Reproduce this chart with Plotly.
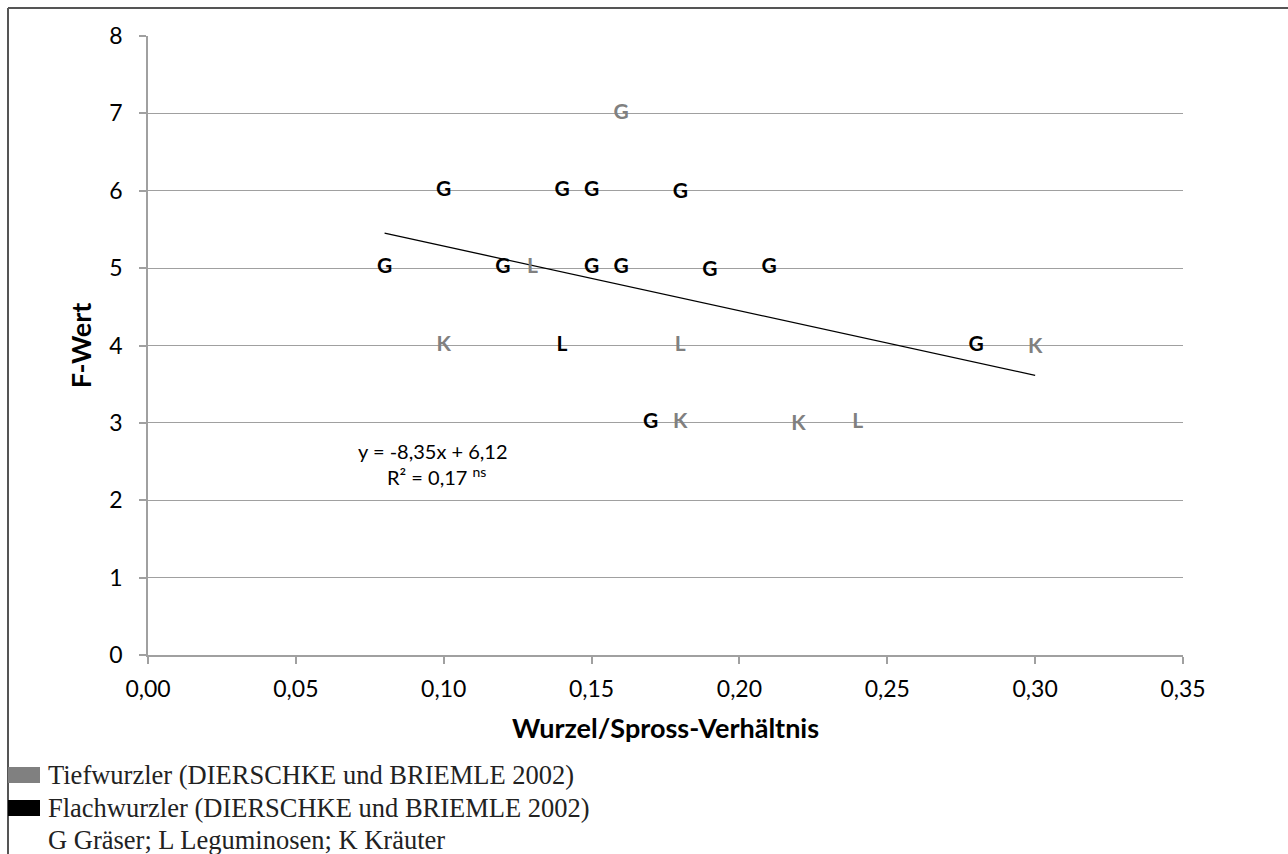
import plotly.graph_objects as go

# ---- data ----
tief_x = [0.16, 0.13, 0.10, 0.18, 0.30, 0.18, 0.22, 0.24]
tief_y = [7, 5, 4, 4, 3.97, 3, 2.97, 3]
tief_lbl = ["G", "L", "K", "L", "K", "K", "K", "L"]

flach_x = [0.10, 0.14, 0.15, 0.18, 0.08, 0.12, 0.15, 0.16, 0.19, 0.21, 0.14, 0.28, 0.17]
flach_y = [6, 6, 6, 5.97, 5, 5, 5, 5, 4.97, 5, 4, 4, 3]
flach_lbl = ["G", "G", "G", "G", "G", "G", "G", "G", "G", "G", "L", "G", "G"]

trend_slope = -8.35
trend_intercept = 6.12
trend_x = [0.08, 0.30]

x_ticks = [0.0, 0.05, 0.10, 0.15, 0.20, 0.25, 0.30, 0.35]
y_ticks = [0, 1, 2, 3, 4, 5, 6, 7, 8]

legend_items = ["Tiefwurzler (DIERSCHKE und BRIEMLE 2002)",
                "Flachwurzler (DIERSCHKE und BRIEMLE 2002)",
                "G Gräser; L Leguminosen; K Kräuter"]

W, H = 1288, 854
L, R, T, B = 148, 1183, 36, 655
FONT = "Lato"
GRAY = "#808080"


def px(x):
    return (x - L) / (R - L)


def py(y):
    return (B - y) / (B - T)


fig = go.Figure()

fig.add_trace(go.Scatter(
    x=trend_x, y=[trend_slope * v + trend_intercept for v in trend_x],
    mode="lines", line=dict(color="black", width=1.3), hoverinfo="skip",
    showlegend=False))

fig.add_trace(go.Scatter(
    x=tief_x, y=tief_y, mode="text", text=[f"<b>{t}</b>" for t in tief_lbl],
    textposition="middle center",
    textfont=dict(family=FONT, size=21, color=GRAY), showlegend=False))

fig.add_trace(go.Scatter(
    x=flach_x, y=flach_y, mode="text", text=[f"<b>{t}</b>" for t in flach_lbl],
    textposition="middle center",
    textfont=dict(family=FONT, size=21, color="black"), showlegend=False))

fig.update_layout(
    width=W, height=H,
    margin=dict(l=L, r=W - R, t=T, b=H - B, pad=0),
    paper_bgcolor="white", plot_bgcolor="white",
    separators=",.",
    font=dict(family=FONT, size=20, color="black"),
    showlegend=False,
)

fig.update_xaxes(
    range=[0, 0.35], tickvals=x_ticks, tickformat=".2f",
    showgrid=False, zeroline=False,
    showline=True, linecolor="#a0a0a0", linewidth=1.5,
    ticks="outside", ticklen=7, tickcolor="#a0a0a0", tickwidth=1.5,
    ticklabelstandoff=6,
    tickfont=dict(family=FONT, size=23, color="black"),
    title=dict(text="<b>Wurzel/Spross-Verhältnis</b>", standoff=18,
               font=dict(family=FONT, size=27, color="black")),
)
fig.update_yaxes(
    range=[0, 8], tickvals=y_ticks,
    showgrid=True, gridcolor="#a0a0a0", gridwidth=1.3, zeroline=False,
    showline=True, linecolor="#a0a0a0", linewidth=1.5,
    ticks="outside", ticklen=7, tickcolor="#a0a0a0", tickwidth=1.5,
    ticklabelstandoff=12,
    tickfont=dict(family=FONT, size=23, color="black"),
    title=dict(text="<b>F-Wert</b>", standoff=10,
               font=dict(family=FONT, size=27, color="black")),
)

# regression equation
fig.add_annotation(x=px(433), y=py(451), xref="paper", yref="paper",
                   xanchor="center", yanchor="middle",
                   text="y = -8,35x + 6,12", showarrow=False,
                   font=dict(family=FONT, size=20, color="black"))
fig.add_annotation(x=px(436), y=py(476), xref="paper", yref="paper",
                   xanchor="center", yanchor="middle",
                   text="R² = 0,17 <sup>ns</sup>", showarrow=False,
                   font=dict(family=FONT, size=20, color="black"))

# outer frame (top and left edges)
fig.add_shape(type="line", xref="paper", yref="paper",
              x0=px(8), x1=px(1290), y0=py(8), y1=py(8),
              line=dict(color="#555555", width=2))
fig.add_shape(type="line", xref="paper", yref="paper",
              x0=px(8), x1=px(8), y0=py(8), y1=py(856),
              line=dict(color="#555555", width=2))

# legend rows below the chart
row_y = [775, 808, 840]
swatch = [GRAY, "black", None]
for i, txt in enumerate(legend_items):
    if swatch[i]:
        fig.add_shape(type="rect", xref="paper", yref="paper",
                      x0=px(8), x1=px(40), y0=py(row_y[i] - 8), y1=py(row_y[i] + 8),
                      fillcolor=swatch[i], line=dict(width=0))
    fig.add_annotation(x=px(46), y=py(row_y[i]), xref="paper", yref="paper",
                       xanchor="left", yanchor="middle", text=txt, showarrow=False,
                       font=dict(family="Liberation Serif", size=26.5, color="#222222"))

fig.write_html("out.html")
